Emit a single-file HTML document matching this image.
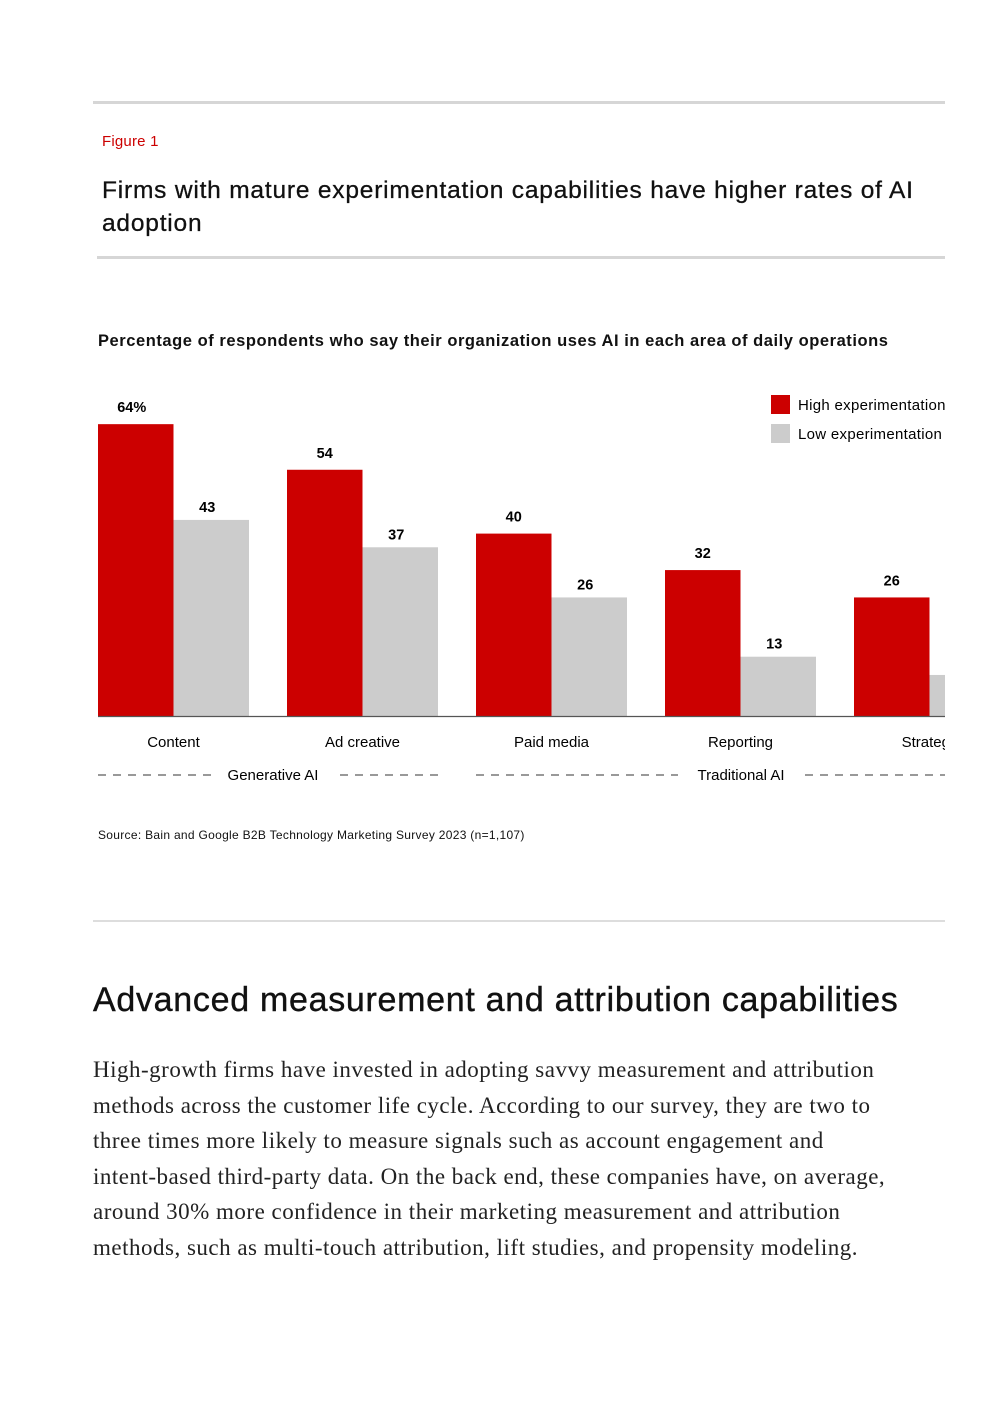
<!DOCTYPE html>
<html><head><meta charset="utf-8"><style>
body{margin:0;background:#fff;width:992px;height:1403px;position:relative;overflow:hidden;font-family:"Liberation Sans",sans-serif;color:#111}
.abs{position:absolute}
</style></head><body>
<div class="abs" style="left:93px;top:101px;width:852px;height:3px;background:#d6d6d6"></div>
<div class="abs" style="left:102px;top:133px;font-size:15px;color:#cc0000;letter-spacing:0.2px">Figure 1</div>
<div class="abs" style="left:102px;top:174px;width:830px;font-size:24.5px;line-height:33px;color:#111;letter-spacing:0.8px;-webkit-text-stroke:0.3px #111">Firms with mature experimentation capabilities have higher rates of AI adoption</div>
<div class="abs" style="left:97px;top:256px;width:848px;height:3px;background:#d6d6d6"></div>
<div class="abs" style="left:98px;top:332px;font-size:16.5px;font-weight:bold;letter-spacing:0.55px;white-space:nowrap">Percentage of respondents who say their organization uses AI in each area of daily operations</div>
<svg class="abs" style="left:0;top:0" width="992" height="900" id="chart"></svg>
<div class="abs" style="left:98px;top:828px;font-size:12px;letter-spacing:0.3px">Source: Bain and Google B2B Technology Marketing Survey 2023 (n=1,107)</div>
<div class="abs" style="left:93px;top:920px;width:852px;height:2px;background:#ddd"></div>
<div class="abs" style="left:93px;top:981px;font-size:34px;color:#111;letter-spacing:0.7px;white-space:nowrap;-webkit-text-stroke:0.4px #111">Advanced measurement and attribution capabilities</div>
<div class="abs" style="left:93px;top:1052px;white-space:nowrap;font-family:'Liberation Serif',serif;font-size:23px;letter-spacing:0.5px;line-height:35.5px;color:#222">High-growth firms have invested in adopting savvy measurement and attribution<br>methods across the customer life cycle. According to our survey, they are two to<br>three times more likely to measure signals such as account engagement and<br>intent-based third-party data. On the back end, these companies have, on average,<br>around 30% more confidence in their marketing measurement and attribution<br>methods, such as multi-touch attribution, lift studies, and propensity modeling.</div>
<script>
const categories=["Content","Ad creative","Paid media","Reporting","Strategy"];
const highValues=[64,54,40,32,26];
const lowValues=[43,37,26,13,9];
const highLabels=["64%","54","40","32","26"];
const lowLabels=["43","37","26","13",""];
const NS="http://www.w3.org/2000/svg";
const svg=document.getElementById('chart');
const base=716,scale=4.56,x0=98,step=189,bw=75.5,clipX=945;
const y=v=>base-v*scale;
const xg=i=>x0+i*step;
function mk(t,a){const e=document.createElementNS(NS,t);for(const k in a)e.setAttribute(k,a[k]);svg.appendChild(e);return e;}
const cp=mk('clipPath',{id:'cp'});const cr=document.createElementNS(NS,'rect');cr.setAttribute('x',0);cr.setAttribute('y',0);cr.setAttribute('width',clipX);cr.setAttribute('height',900);cp.appendChild(cr);
categories.forEach((c,i)=>{
  const r1=mk('rect',{x:xg(i),y:y(highValues[i]),width:bw,height:highValues[i]*scale,fill:'#cc0000','clip-path':'url(#cp)'});
  
  
  const r2=mk('rect',{x:xg(i)+bw,y:y(lowValues[i]),width:bw,height:lowValues[i]*scale,fill:'#cccccc','clip-path':'url(#cp)'});
  
  
  const t1=mk('text',{x:xg(i)+bw/2+(i==0?-4:0),y:y(highValues[i])-12,'text-anchor':'middle','font-size':14.5,'font-weight':'bold','font-family':'Liberation Sans'});t1.textContent=highLabels[i];
  
  
  const t2=mk('text',{x:xg(i)+bw*1.5-4,y:y(lowValues[i])-8,'text-anchor':'middle','font-size':14.5,'font-weight':'bold','font-family':'Liberation Sans'});t2.textContent=lowLabels[i];
  
  
  const t3=mk('text',{x:xg(i)+bw,y:747,'text-anchor':'middle','font-size':15,'font-family':'Liberation Sans','clip-path':'url(#cp)'});t3.textContent=c;
  
  
});
const ax=mk('line',{x1:98,x2:clipX,y1:716.5,y2:716.5,stroke:'#555','stroke-width':1.2});


[[98,212],[340,438],[476,678],[805,945]].forEach(s=>{const l=mk('line',{x1:s[0],x2:s[1],y1:775,y2:775,stroke:'#333','stroke-width':1,'stroke-dasharray':'8,7'});});
[["Generative AI",273],["Traditional AI",741]].forEach(g=>{const t=mk('text',{x:g[1],y:780,'text-anchor':'middle','font-size':15,'font-family':'Liberation Sans'});t.textContent=g[0];});
[["High experimentation","#cc0000",395],["Low experimentation","#cccccc",424]].forEach(l=>{
  const r=mk('rect',{x:771,y:l[2],width:19,height:19,fill:l[1]});
  const t=mk('text',{x:798,y:l[2]+15,'font-size':15,'letter-spacing':0.3,'font-family':'Liberation Sans','clip-path':'url(#cp)'});t.textContent=l[0];
});
</script>
</body></html>
